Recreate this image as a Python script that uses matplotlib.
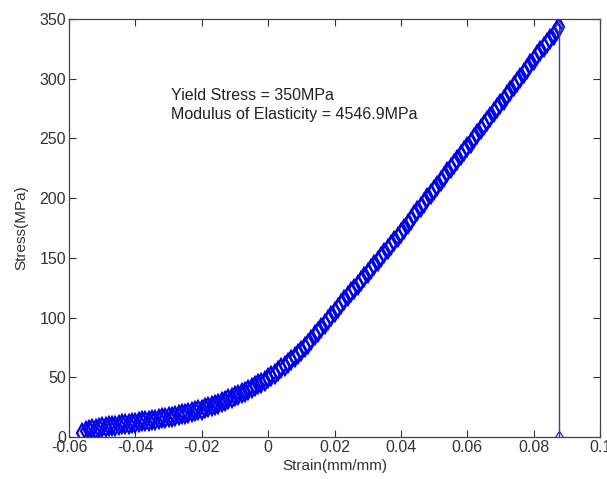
import matplotlib
matplotlib.use("Agg")
import matplotlib.pyplot as plt

plt.rcParams['font.family'] = ['Liberation Sans', 'DejaVu Sans']

strain = [-0.056, -0.055, -0.054, -0.053, -0.052, -0.051, -0.050, -0.049, -0.048, -0.047,
          -0.046, -0.045, -0.044, -0.043, -0.042, -0.041, -0.040, -0.039, -0.038, -0.037,
          -0.036, -0.035, -0.034, -0.033, -0.032, -0.031, -0.030, -0.029, -0.028, -0.027,
          -0.026, -0.025, -0.024, -0.023, -0.022, -0.021, -0.020, -0.019, -0.018, -0.017,
          -0.016, -0.015, -0.014, -0.013, -0.012, -0.011, -0.010, -0.009, -0.008, -0.007,
          -0.006, -0.005, -0.004, -0.003, -0.002, -0.001, 0.000, 0.001, 0.002, 0.003,
          0.004, 0.005, 0.006, 0.007, 0.008, 0.009, 0.010, 0.011, 0.012, 0.013,
          0.014, 0.015, 0.016, 0.017, 0.018, 0.019, 0.020, 0.021, 0.022, 0.023,
          0.024, 0.025, 0.026, 0.027, 0.028, 0.029, 0.030, 0.031, 0.032, 0.033,
          0.034, 0.035, 0.036, 0.037, 0.038, 0.039, 0.040, 0.041, 0.042, 0.043,
          0.044, 0.045, 0.046, 0.047, 0.048, 0.049, 0.050, 0.051, 0.052, 0.053,
          0.054, 0.055, 0.056, 0.057, 0.058, 0.059, 0.060, 0.061, 0.062, 0.063,
          0.064, 0.065, 0.066, 0.067, 0.068, 0.069, 0.070, 0.071, 0.072, 0.073,
          0.074, 0.075, 0.076, 0.077, 0.078, 0.079, 0.080, 0.081, 0.082, 0.083,
          0.084, 0.085, 0.086, 0.087, 0.0877]
stress = [3.5, 5, 6, 6.5, 7, 7.5, 8, 8.5, 9, 9.2,
          9.5, 10, 10.5, 10.8, 11, 11.5, 12, 12.5, 13, 13.2,
          13.5, 14, 14.5, 15, 15.5, 16, 16.5, 17, 17.5, 18.2,
          19, 19.5, 20, 20.8, 21.5, 22.2, 23, 24, 25, 26,
          27, 28, 29, 30.2, 31.5, 32.7, 34, 35.2, 36.5, 38,
          39.5, 41, 42.5, 44, 45.5, 47.2, 49, 51, 53, 55.2,
          57.5, 59.7, 62, 64.5, 67, 69.5, 72, 75, 78, 81.5,
          85, 88.2, 91.5, 94.7, 98, 101.5, 105, 108, 111, 114.5,
          118, 121, 124, 127.5, 131, 134, 137, 140.5, 144, 147.5,
          151, 154.2, 157.5, 160.7, 164, 167.5, 171, 174.5, 178, 181.7,
          185.5, 189, 192.5, 196.2, 200, 203.5, 207, 210.5, 214, 217.7,
          221.5, 225, 228.5, 232.2, 236, 239.5, 243, 246.5, 250, 253.7,
          257.5, 261, 264.5, 268.2, 272, 275.5, 279, 282.5, 286, 289.7,
          293.5, 297.2, 301, 304.7, 308.5, 312.2, 316, 319.5, 323, 326.5,
          330, 333.5, 337, 340.5, 343]

yield_line_x = [0.0877, 0.0877]
yield_line_y = [343, 0]

xticks = [-0.06, -0.04, -0.02, 0, 0.02, 0.04, 0.06, 0.08, 0.1]
xticklabels = ['-0.06', '-0.04', '-0.02', '0', '0.02', '0.04', '0.06', '0.08', '0.1']
yticks = [0, 50, 100, 150, 200, 250, 300, 350]
annotation = "Yield Stress = 350MPa\nModulus of Elasticity = 4546.9MPa"

fig = plt.figure(figsize=(6.07, 4.79), dpi=100)
ax = fig.add_axes([69/607, 42/479, 531/607, 418/479])

ax.plot(strain, stress, linestyle='none', marker='d', markersize=9,
        markerfacecolor='none', markeredgecolor='#0000ee', markeredgewidth=1.6)
ax.plot(yield_line_x, yield_line_y, color='#3c3ca8', lw=1.0, marker='d',
        markersize=6, markerfacecolor='none', markeredgecolor='#3c3ca8')

ax.set_xlim(-0.06, 0.1)
ax.set_ylim(0, 350)
ax.set_xticks(xticks)
ax.set_xticklabels(xticklabels)
ax.set_yticks(yticks)
ax.tick_params(direction='in', length=5, width=0.8, top=True, right=True,
               labelsize=11.5, colors='#333333', pad=2)
for s in ax.spines.values():
    s.set_color('#444444')
    s.set_linewidth(0.9)

ax.set_xlabel('Strain(mm/mm)', fontsize=11, color='#333333', labelpad=3)
ax.set_ylabel('Stress(MPa)', fontsize=11, color='#333333', labelpad=8)

ax.text(-0.0293, 292, annotation, fontsize=11.5, color='#222222',
        va='top', ha='left', linespacing=1.3)

fig.savefig('out.png', dpi=100)
